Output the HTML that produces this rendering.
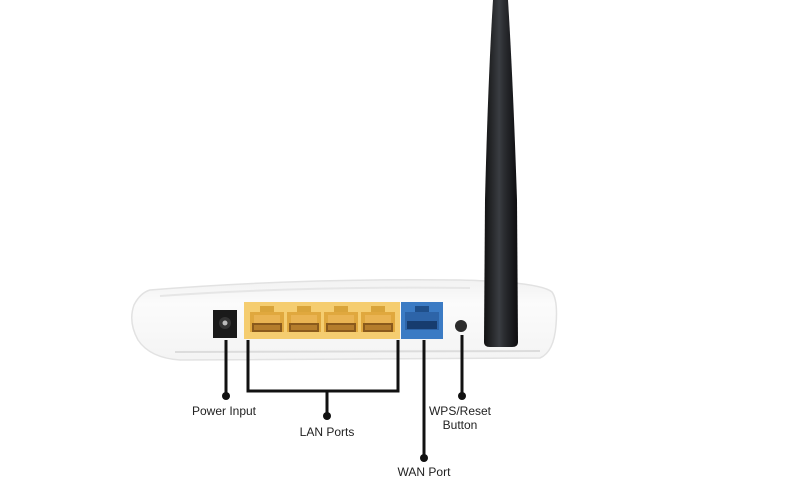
<!DOCTYPE html>
<html><head><meta charset="utf-8"><style>
html,body{margin:0;padding:0;background:#fff;width:796px;height:500px;overflow:hidden}
</style></head><body>
<svg width="796" height="500" viewBox="0 0 796 500" xmlns="http://www.w3.org/2000/svg">
<defs>
<linearGradient id="ant" x1="0" x2="1" y1="0" y2="0">
<stop offset="0" stop-color="#111"/><stop offset="0.45" stop-color="#3a3d42"/><stop offset="0.6" stop-color="#2a2c30"/><stop offset="1" stop-color="#0c0c0e"/>
</linearGradient>
<linearGradient id="body" x1="0" x2="0" y1="0" y2="1">
<stop offset="0" stop-color="#f2f2f2"/><stop offset="0.3" stop-color="#fbfbfb"/><stop offset="1" stop-color="#f4f4f4"/>
</linearGradient>
<g id="jack">
<rect x="-7" y="4" width="14" height="7" fill="#d9a43a"/>
<rect x="-17" y="10" width="34" height="20" fill="#e0a83e"/>
<rect x="-13" y="13" width="26" height="8" fill="#eab453"/>
<rect x="-15" y="21" width="30" height="9" fill="#8a5a1c"/>
<rect x="-13" y="23" width="26" height="5" fill="#b57d2c"/>
</g>
</defs>
<!-- router body -->
<path d="M150 290 Q300 278 460 280 Q540 282 552 292 Q558 300 556 325 Q554 352 540 358 L180 360 Q150 358 138 340 Q128 322 134 305 Q140 293 150 290 Z" fill="url(#body)" stroke="#e2e2e2" stroke-width="1.5"/>
<path d="M160 296 Q300 286 470 288" stroke="#e6e6e6" stroke-width="2" fill="none"/>
<path d="M175 352 L540 351" stroke="#dcdcdc" stroke-width="2" fill="none"/>
<!-- antenna -->
<path d="M493 0 L508 0 Q513 80 517 200 L518 342 Q518 347 512 347 L490 347 Q484 347 484 342 L485 200 Q488 80 493 0 Z" fill="url(#ant)"/>
<!-- power jack -->
<rect x="213" y="310" width="24" height="28" fill="#1a1a1a"/>
<circle cx="225" cy="323" r="6" fill="#333"/><circle cx="225" cy="323" r="2.5" fill="#bbb"/>
<!-- LAN panel -->
<rect x="244" y="302" width="156" height="37" fill="#f5cd70"/>
<use href="#jack" x="267" y="302"/>
<use href="#jack" x="304" y="302"/>
<use href="#jack" x="341" y="302"/>
<use href="#jack" x="378" y="302"/>
<!-- WAN -->
<rect x="401" y="302" width="42" height="37" fill="#3b7bc4"/>
<rect x="415" y="306" width="14" height="6" fill="#1f4f8a"/>
<rect x="405" y="312" width="34" height="18" fill="#2d64a8"/>
<rect x="407" y="321" width="30" height="8" fill="#173c6e"/>
<!-- button -->
<circle cx="461" cy="326" r="6" fill="#2b2b2b"/>
<!-- connectors -->
<g stroke="#111" stroke-width="3" fill="none">
<line x1="226" y1="340" x2="226" y2="396"/>
<polyline points="248,340 248,391 398,391 398,340"/>
<line x1="327" y1="391" x2="327" y2="416"/>
<line x1="424" y1="340" x2="424" y2="458"/>
<line x1="462" y1="335" x2="462" y2="396"/>
</g>
<g fill="#111">
<circle cx="226" cy="396" r="4"/><circle cx="327" cy="416" r="4"/><circle cx="424" cy="458" r="4"/><circle cx="462" cy="396" r="4"/>
</g>
<g font-family="Liberation Sans, sans-serif" font-size="12" fill="#222" text-anchor="middle">
<text x="224" y="415">Power Input</text>
<text x="327" y="436">LAN Ports</text>
<text x="460" y="415">WPS/Reset</text>
<text x="460" y="429">Button</text>
<text x="424" y="476">WAN Port</text>
</g>
</svg>
</body></html>
